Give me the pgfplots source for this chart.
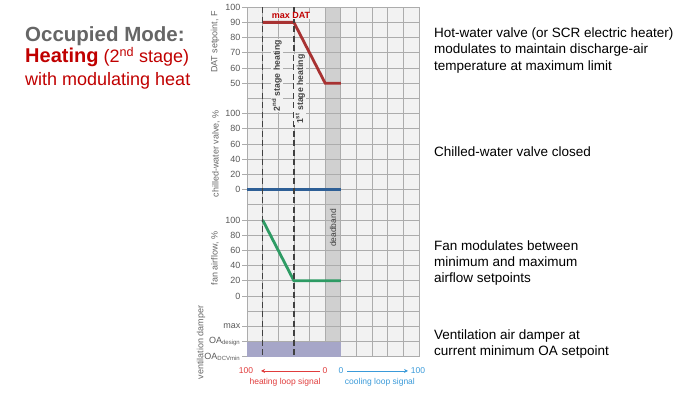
\documentclass[border=0pt]{standalone}
\usepackage{fontspec}
\setmainfont{Liberation Sans}
\usepackage{pgfplots}
\pgfplotsset{compat=1.18}
\usetikzlibrary{arrows.meta}
\definecolor{bgc}{RGB}{242,242,242}
\definecolor{dbc}{RGB}{208,208,208}
\definecolor{gridc}{RGB}{172,172,172}
\definecolor{tickc}{RGB}{89,89,89}
\definecolor{labc}{RGB}{102,102,102}
\definecolor{dashc}{RGB}{64,64,64}
\definecolor{datred}{RGB}{168,50,50}
\definecolor{cwblue}{RGB}{46,95,150}
\definecolor{fangreen}{RGB}{46,155,100}
\definecolor{ventc}{RGB}{166,166,200}
\definecolor{titred}{RGB}{192,0,0}
\definecolor{titgray}{RGB}{102,102,102}
\definecolor{heatred}{RGB}{224,60,60}
\definecolor{coolblue}{RGB}{58,154,217}
\tikzset{fnt/.style={font=\fontsize{#1}{#1}\selectfont}}
\begin{document}
\begin{tikzpicture}
\useasboundingbox (0pt,0pt) rectangle (697pt,392pt);
\pgfplotsset{
  panel/.style={scale only axis, width=172pt, xmin=0, xmax=11, clip=false, anchor=north west},
  gridpanel/.style={panel, grid=major, grid style={draw=gridc, line width=0.7pt},
    axis line style={draw=gridc, line width=0.7pt},
    xtick={0,...,11}, xticklabels={}, xticklabel style={opacity=0}, xtick style={draw=none},
    tick align=outside, ytick pos=left, major tick length=5pt,
    ytick style={draw=gridc, line width=0.7pt},
    yticklabel style={font=\fontsize{9}{10}\selectfont, text=tickc, inner sep=1.5pt},
    /pgf/number format/assume math mode=true}
}
% background and deadband
\begin{axis}[panel, at={(247pt,384.8pt)}, height=349.6pt, ymin=0, ymax=23, hide axis]
\addplot[fill=bgc, draw=none] coordinates {(0,23) (11,23)} \closedcycle;
\addplot[fill=dbc, draw=none] coordinates {(5,23) (6,23)} \closedcycle;
\end{axis}
% DAT setpoint
\begin{axis}[gridpanel, at={(247pt,384.8pt)}, height=91.2pt, ymin=40, ymax=100,
  ytick={50,60,...,100}, yticklabels={50,60,70,80,90,100}]
\addplot[datred, line width=2.8pt] coordinates {(1,90) (3,90) (5,50) (6,50)};
\end{axis}
% chilled-water valve
\begin{axis}[gridpanel, at={(247pt,293.6pt)}, height=106.4pt, ymin=-20, ymax=120,
  ytick={0,20,...,100}, yticklabels={0,20,40,60,80,100}]
\addplot[cwblue, line width=2.8pt] coordinates {(0,0) (6,0)};
\end{axis}
% fan airflow
\begin{axis}[gridpanel, at={(247pt,187.2pt)}, height=106.4pt, ymin=-20, ymax=120,
  ytick={0,20,...,100}, yticklabels={0,20,40,60,80,100}]
\addplot[fangreen, line width=2.8pt] coordinates {(1,100) (3,20) (6,20)};
\end{axis}
% ventilation damper
\begin{axis}[gridpanel, at={(247pt,80.8pt)}, height=45.6pt, ymin=0, ymax=3,
  ytick={0,1,2}, yticklabels={OA\textsubscript{DCVmin},OA\textsubscript{design},max}]
\addplot[fill=ventc, draw=none] coordinates {(0,1) (6,1)} \closedcycle;
\end{axis}
% overlay
\begin{axis}[panel, at={(247pt,384.8pt)}, height=349.6pt, ymin=0, ymax=23, hide axis]
\addplot[dashc, line width=1.2pt, dash pattern=on 6pt off 3.5pt] coordinates {(1,23) (1,-0.1)};
\addplot[dashc, line width=1.2pt, dash pattern=on 6pt off 3.5pt] coordinates {(3,23) (3,-0.1)};
\node[rotate=90, fill=bgc, inner sep=1pt, text=dashc, fnt=8.7] at (axis cs:1.9,18.5) {\bfseries 2\textsuperscript{nd} stage heating};
\node[rotate=90, fill=bgc, inner sep=1pt, text=dashc, fnt=8.7] at (axis cs:3.4,17.6) {\bfseries 1\textsuperscript{st} stage heating};
\node[fill=bgc, inner sep=0.5pt, text=titred, fnt=9] at (axis cs:2.81,22.45) {\bfseries max DAT};
\node[rotate=90, inner sep=0pt, text=dashc, fnt=8.5] at (axis cs:5.5,8.47) {deadband};
\draw[heatred, line width=0.8pt, -{Stealth[length=4pt,width=4pt]}] (axis cs:4.68,-0.93) -- (axis cs:0.9,-0.93);
\draw[coolblue, line width=0.8pt, -{Stealth[length=4pt,width=4pt]}] (axis cs:6.4,-0.93) -- (axis cs:10.3,-0.93);
\node[text=heatred, fnt=8.5, inner sep=0pt] at (axis cs:-0.06,-0.93) {100};
\node[text=heatred, fnt=8.5, inner sep=0pt] at (axis cs:4.99,-0.93) {0};
\node[text=coolblue, fnt=8.5, inner sep=0pt] at (axis cs:6.01,-0.93) {0};
\node[text=coolblue, fnt=8.5, inner sep=0pt] at (axis cs:10.94,-0.93) {100};
\node[text=heatred, fnt=8.5, inner sep=0pt] at (axis cs:2.43,-1.66) {heating loop signal};
\node[text=coolblue, fnt=8.5, inner sep=0pt] at (axis cs:8.5,-1.66) {cooling loop signal};
\end{axis}
% axis labels
\node[rotate=90, inner sep=0pt, text=labc, fnt=9] at (215pt,350pt) {DAT setpoint, F};
\node[rotate=90, inner sep=0pt, text=labc, fnt=9] at (216pt,238.5pt) {chilled-water valve, \%};
\node[rotate=90, inner sep=0pt, text=labc, fnt=9] at (215pt,133.5pt) {fan airflow, \%};
\node[rotate=90, inner sep=0pt, text=labc, fnt=9] at (201pt,49.5pt) {ventilation damper};
% title
\node[anchor=base west, inner sep=0pt, text=titgray, fnt=20.5] at (25pt,350pt) {\bfseries Occupied Mode:};
\node[anchor=base west, inner sep=0pt, text=titred, fnt=20] at (25pt,329.5pt) {\bfseries Heating\fontsize{18}{18}\selectfont\mdseries{} (2\textsuperscript{nd} stage)};
\node[anchor=base west, inner sep=0pt, text=titred, fnt=18] at (25pt,307pt) {with modulating heat};
% right texts
\node[anchor=base west, inner sep=0pt, fnt=13.5] at (434pt,354pt) {Hot-water valve (or SCR electric heater)};
\node[anchor=base west, inner sep=0pt, fnt=13.5] at (434pt,338pt) {modulates to maintain discharge-air};
\node[anchor=base west, inner sep=0pt, fnt=13.5] at (434pt,322pt) {temperature at maximum limit};
\node[anchor=base west, inner sep=0pt, fnt=13.5] at (434pt,236pt) {Chilled-water valve closed};
\node[anchor=base west, inner sep=0pt, fnt=13.5] at (434pt,142pt) {Fan modulates between};
\node[anchor=base west, inner sep=0pt, fnt=13.5] at (434pt,126pt) {minimum and maximum};
\node[anchor=base west, inner sep=0pt, fnt=13.5] at (434pt,110pt) {airflow setpoints};
\node[anchor=base west, inner sep=0pt, fnt=13.5] at (434pt,53pt) {Ventilation air damper at};
\node[anchor=base west, inner sep=0pt, fnt=13.5] at (434pt,37pt) {current minimum OA setpoint};
\end{tikzpicture}
\end{document}
